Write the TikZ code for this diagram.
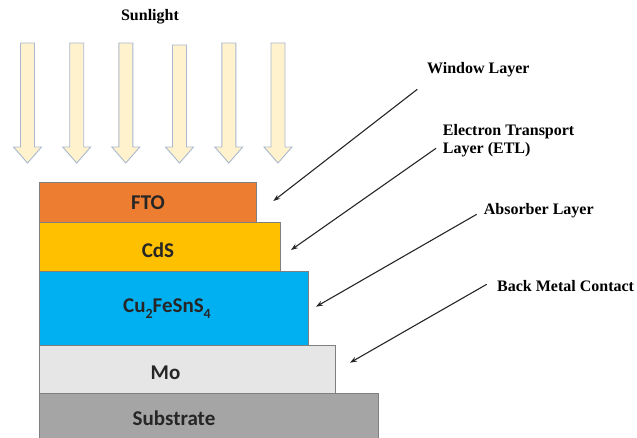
\documentclass[tikz,border=0pt]{standalone}
\usepackage{fontspec}
\setmainfont{Liberation Serif}
\newfontfamily\layerfont{Carlito}
\usetikzlibrary{arrows.meta}
\definecolor{ftoC}{HTML}{ED7D31}
\definecolor{cdsC}{HTML}{FFC000}
\definecolor{czC}{HTML}{00B0F0}
\definecolor{moC}{HTML}{E7E6E6}
\definecolor{subC}{HTML}{A5A5A5}
\definecolor{sunfill}{HTML}{FFF2CC}
\definecolor{sunedge}{HTML}{A9B8D0}
\definecolor{layeredge}{HTML}{7F7F7F}
\tikzset{
  layerbox/.style={draw=layeredge, line width=0.8pt, anchor=north west, inner sep=0pt, outer sep=0pt},
  layertext/.style={font=\layerfont\bfseries\fontsize{21}{24}\selectfont, text=black!85, inner sep=0pt},
  lbl/.style={font=\bfseries\fontsize{16}{18.3}\selectfont, inner sep=1pt},
  pointer/.style={draw=black!85, line width=1.1pt, -{Stealth[length=7pt,width=5pt]}},
  sunarrow/.style={fill=sunfill, draw=sunedge, line width=0.9pt, line join=miter}
}
\newcommand{\sunarr}[2]{% center x, top y
  \draw[sunarrow] (#1-7,#2) -- (#1+7,#2) -- (#1+7,147) -- (#1+14,147) -- (#1,163) -- (#1-14,147) -- (#1-7,147) -- cycle;}
\newcommand{\subsc}[1]{\raisebox{-0.28em}{\fontsize{14}{14}\selectfont #1}}
\begin{document}
\begin{tikzpicture}[x=1pt,y=-1pt]
\useasboundingbox (0,0) rectangle (637,437);
% sunlight
\node[lbl] (sun) at (150,17) {Sunlight};
\sunarr{27.5}{43}
\sunarr{76.7}{43}
\sunarr{125.8}{43}
\sunarr{179.5}{45}
\sunarr{228.8}{43}
\sunarr{278}{43}
% layers
\node[layerbox, fill=subC, minimum width=339pt, minimum height=46pt] (sub) at (39.3,393.3) {};
\node[layerbox, fill=moC, minimum width=296.4pt, minimum height=47.6pt] (mo) at (39.3,345.7) {};
\node[layerbox, fill=czC, minimum width=269pt, minimum height=74.7pt] (cz) at (39.3,271) {};
\node[layerbox, fill=cdsC, minimum width=241.4pt, minimum height=48.7pt] (cds) at (39.3,222.3) {};
\node[layerbox, fill=ftoC, minimum width=216.7pt, minimum height=39.6pt] (fto) at (39.3,182.7) {};
\node[layertext] (ftoT) at (148,203) {FTO};
\node[layertext] (cdsT) at (158,250) {CdS};
\node[layertext] (czT) at (167,309) {Cu\subsc{2}FeSnS\subsc{4}};
\node[layertext] (moT) at (165.5,373) {Mo};
\node[layertext] (subT) at (174,418) {Substrate};
% labels
\node[lbl] (win) at (478.3,69.3) {Window Layer};
\node[lbl, anchor=west, align=left] (etl) at (441.7,141) {Electron Transport\\Layer (ETL)};
\node[lbl, anchor=west] (abs) at (482.7,211) {Absorber Layer};
\node[lbl, anchor=west] (bmc) at (496,285.7) {Back Metal Contact};
% pointer ends
\coordinate (winS) at (417.3,89.3);
\coordinate (etlS) at (436,148.3);
\coordinate (absS) at (476.7,214.3);
\coordinate (bmcS) at (486.7,284.3);
\coordinate (winE) at (273.3,201);
\coordinate (etlE) at (291,250);
\coordinate (absE) at (316,306.7);
\coordinate (bmcE) at (350,362.7);
\draw[pointer] (winS) -- (winE);
\draw[pointer] (etlS) -- (etlE);
\draw[pointer] (absS) -- (absE);
\draw[pointer] (bmcS) -- (bmcE);
\end{tikzpicture}
\end{document}
